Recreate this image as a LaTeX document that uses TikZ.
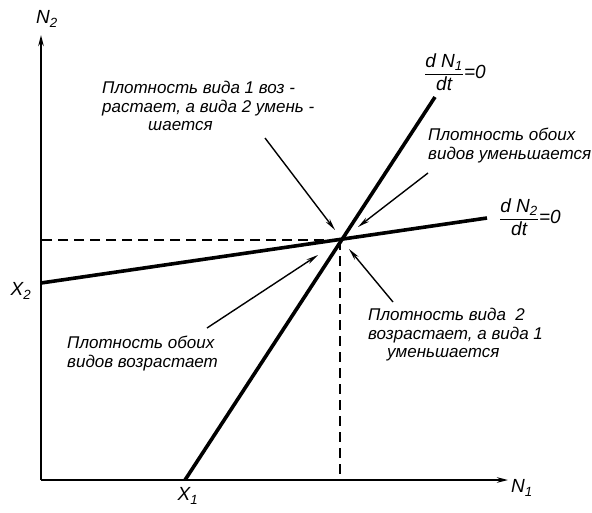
\documentclass[tikz,border=0pt]{standalone}
\usepackage{fontspec}
\setmainfont{Liberation Sans}
\usetikzlibrary{arrows.meta}
\tikzset{
    >=Stealth,
    axis/.style={draw,->,>={Stealth[length=11pt,width=5.5pt]},line width=1.8pt},
    pointer/.style={draw,->,>={Stealth[length=12pt,width=5pt]},line width=1.4pt}
}

\begin{document}
\begin{tikzpicture}[x=1pt,y=-1pt,
                    isocline/.style={line width=3.6pt},
                    guide/.style={dash pattern=on 10pt off 6pt,line width=1.4pt},
                    note/.style={font=\itshape\fontsize{17}{18.5}\selectfont,align=left,inner sep=0pt},
                    lbl/.style={font=\itshape\fontsize{19}{20}\selectfont,inner sep=0pt}]
\useasboundingbox (0,0) rectangle (592,512);

% Axes
\coordinate (O) at (41,480);
\coordinate (Ntop) at (41,35);
\coordinate (Nright) at (508,480);
\draw[axis] (O) -- (Ntop);
\draw[axis] (O) -- (Nright);
\node[lbl] (n2) at (47,19) {N\textsubscript{2}};
\node[lbl] (n1) at (522,488) {N\textsubscript{1}};

% Isoclines
\coordinate (E) at (340,240);
\coordinate (X1) at (185,480);
\coordinate (X2) at (41,283);
\coordinate (top1) at (435,97);
\coordinate (end2) at (487,218);
\draw[isocline] (X1) -- (top1);
\draw[isocline] (X2) -- (end2);
\node[lbl] (x1) at (188,496) {X\textsubscript{1}};
\node[lbl] (x2) at (21,291) {X\textsubscript{2}};
\node[lbl,anchor=west] (iso1) at (424,72) {$\displaystyle\frac{\mbox{\itshape d N\textsubscript{1}}}{\mbox{\itshape dt}}$=0};
\node[lbl,anchor=west] (iso2) at (499,217) {$\displaystyle\frac{\mbox{\itshape d N\textsubscript{2}}}{\mbox{\itshape dt}}$=0};

% Equilibrium
\draw[guide] (E) -- (O |- E);
\draw[guide] (E) -- (E |- O);

% Notes
\node[note,anchor=north west] (t1) at (102,81) {Плотность вида 1 воз -\\растает, а вида 2 умень -\\\hspace*{46pt}шается};
\node[note,anchor=north west] (t2) at (428,128) {Плотность обоих\\видов уменьшается};
\node[note,anchor=north west] (t3) at (67,336) {Плотность обоих\\видов возрастает};
\node[note,anchor=north west] (t4) at (368,308) {Плотность вида \ 2\\возрастает, а вида 1\\\hspace*{19pt}уменьшается};

% Pointers
\coordinate (p1) at (265,138);
\coordinate (q1) at (335,230);
\coordinate (p2) at (428,173);
\coordinate (q2) at (358,227);
\coordinate (p3) at (207,328);
\coordinate (q3) at (318,255);
\coordinate (p4) at (393,302);
\coordinate (q4) at (349,249);
\draw[pointer] (p1) -- (q1);
\draw[pointer] (p2) -- (q2);
\draw[pointer] (p3) -- (q3);
\draw[pointer] (p4) -- (q4);

\end{tikzpicture}
\end{document}
